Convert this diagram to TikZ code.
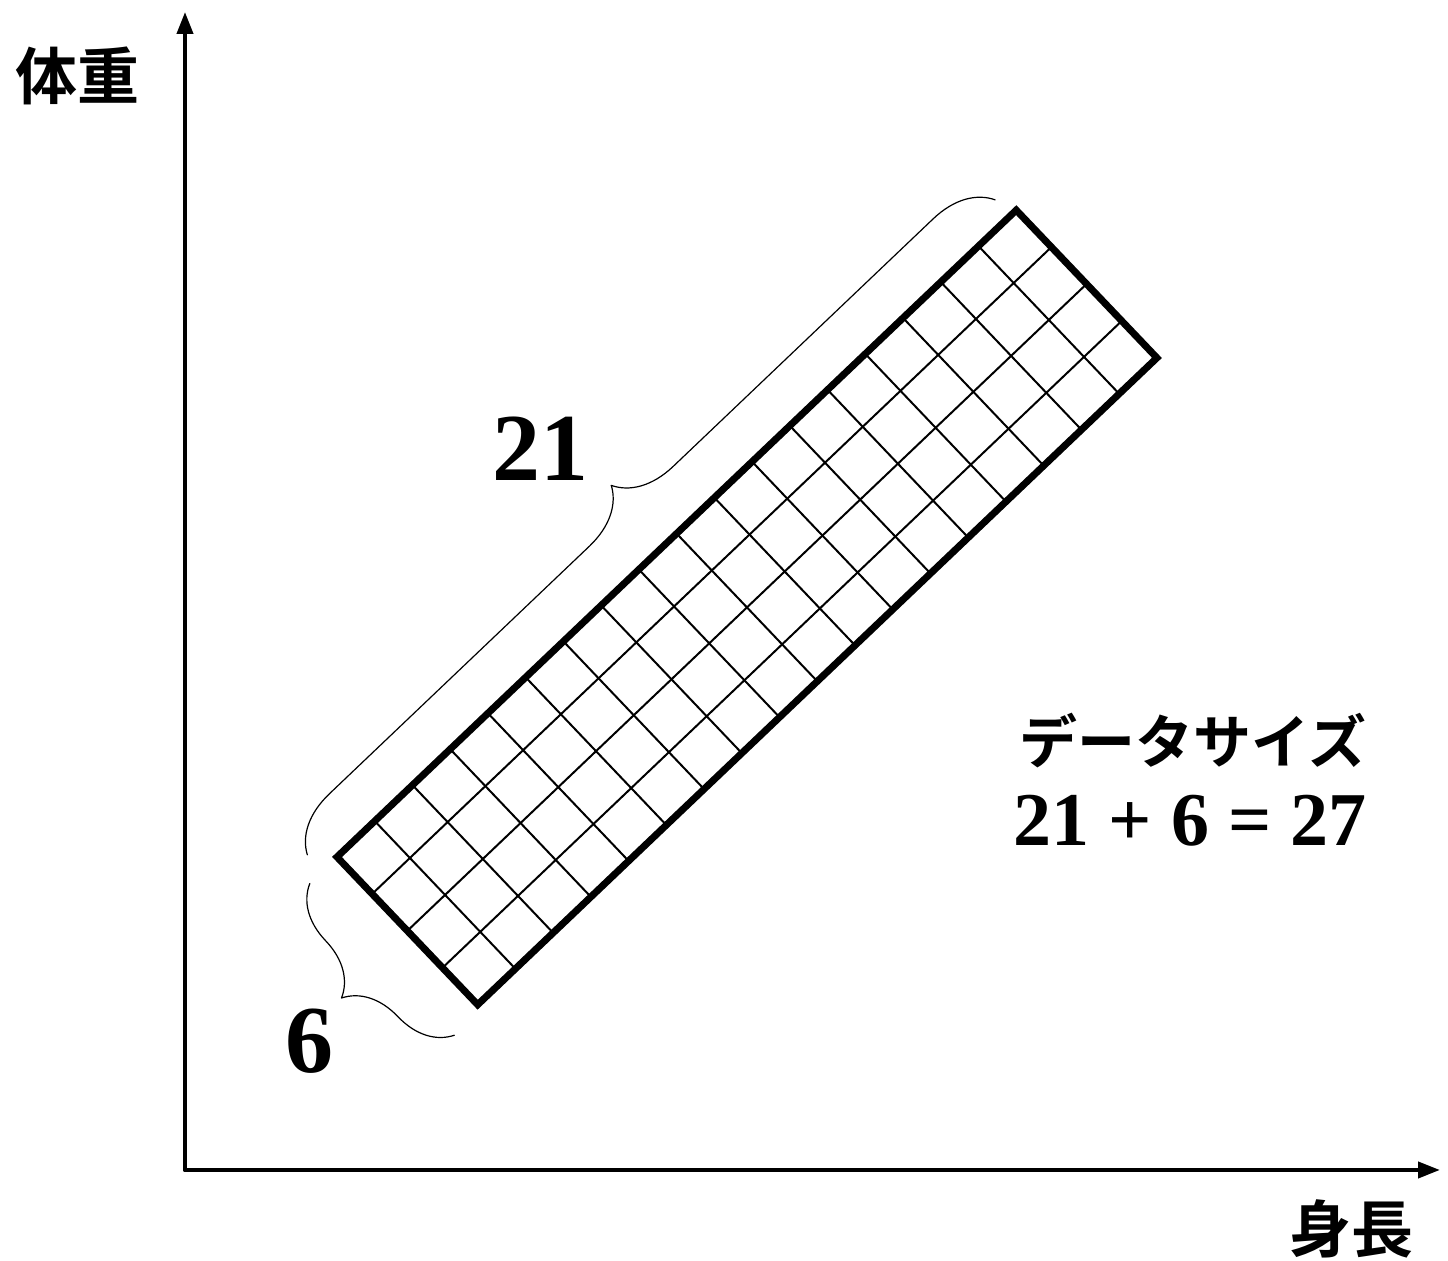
\documentclass[tikz,border=0pt]{standalone}
\usepackage{fontspec}
\setmainfont{Liberation Serif}[BoldFont={Liberation Serif Bold}]
\newfontfamily\jpfont{Noto Sans CJK JP}[BoldFont={Noto Sans CJK JP Bold}]
\usetikzlibrary{arrows.meta,decorations.pathreplacing}

\begin{document}
\begin{tikzpicture}[x=0.5pt, y=0.5pt, line cap=round, line join=round,
    axis/.style={line width=2pt, -{Triangle[length=11pt,width=8pt]}},
    frame/.style={line width=3.5pt, line join=miter},
    cell/.style={line width=1pt},
    brc/.style={line width=0.6pt, decorate, decoration={brace, amplitude=#1}},
    num/.style={font=\bfseries\fontsize{#1}{#1}\selectfont},
    jp/.style={font=\jpfont\bfseries\fontsize{#1}{#1}\selectfont}]
  \useasboundingbox (0,0) rectangle (1448,1261);
  % The two axes.
  \coordinate (o) at (185,91);
  \coordinate (ytip) at (185,1249);
  \coordinate (xtip) at (1440,91);
  \draw[axis] (o) -- (ytip);
  \draw[axis] (o) -- (xtip);
  \node[jp=31] (weight) at (78,1185) {体重};
  \node[jp=31] (height) at (1351,32) {身長};
  % The tilted band of cells, 18 along and 4 across.
  \begin{scope}[shift={(337,404)}, rotate=43.6]
    \coordinate (a) at (0,0);
    \coordinate (b) at (938,0);
    \coordinate (c) at (938,-204);
    \coordinate (d) at (0,-204);
    \foreach \k in {1,...,17}
      \draw[cell] ({\k*938/18},0) -- ({\k*938/18},-204);
    \foreach \j in {1,2,3}
      \draw[cell] (0,{-\j*51}) -- (938,{-\j*51});
    \draw[frame] (a) -- (b) -- (c) -- (d) -- cycle;
    % Braces along the long and the short side.
    \coordinate (l1) at (-20,22);
    \coordinate (l2) at (930,22);
    \draw[brc=29pt] (l1) -- (l2);
    \coordinate (s1) at (-38,-210);
    \coordinate (s2) at (-38,0);
    \draw[brc=28pt] (s1) -- (s2);
  \end{scope}
  \node[num=48] (long) at (540,812) {21};
  \node[num=48] (short) at (309,220) {6};
  % The data size.
  \node[jp=29] (size) at (1193,520) {データサイズ};
  \node[num=38] (sum) at (1190,440) {21 + 6 = 27};
\end{tikzpicture}
\end{document}
